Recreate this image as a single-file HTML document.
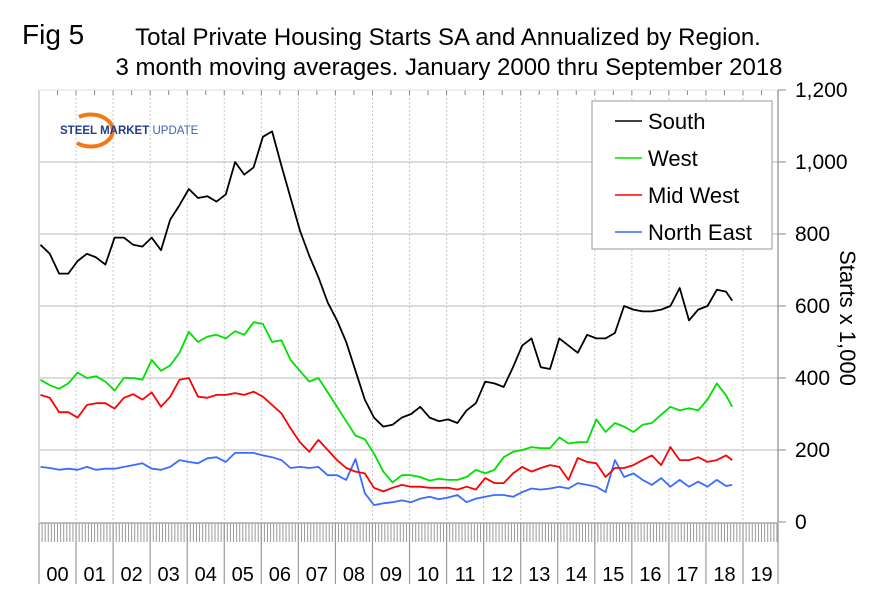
<!DOCTYPE html>
<html><head><meta charset="utf-8"><style>
body{margin:0;background:#fff;}
svg{display:block;font-family:"Liberation Sans",Arial,sans-serif;}
</style></head><body>
<svg id="chart" width="886" height="594" viewBox="0 0 886 594" xmlns="http://www.w3.org/2000/svg">
<rect width="886" height="594" fill="#fff"/>
<text x="22" y="44" font-size="28">Fig 5</text>
<text x="448" y="45" font-size="24" text-anchor="middle">Total Private Housing Starts SA and Annualized by Region.</text>
<text x="449" y="75" font-size="24" text-anchor="middle">3 month moving averages. January 2000 thru September 2018</text>
<g id="grid"></g>
<g id="axes"></g>
<g>
<path d="M79 117 A22 16 0 1 1 77 143" fill="none" stroke="#f07a1a" stroke-width="4"/>
<text x="60" y="134" font-size="11.5" font-weight="bold" fill="#1e3f8a">STEEL <tspan>MARKET</tspan> <tspan font-weight="normal" fill="#3a64b0">UPDATE</tspan></text>
</g>
<g id="series"></g>
<g>
<rect x="592" y="101" width="180" height="148" fill="#fff" stroke="#999" stroke-width="1"/>
<g><line x1="615" y1="121" x2="642" y2="121" stroke="#000" stroke-width="1.5"/><text x="648" y="129" font-size="22">South</text></g>
<g><line x1="615" y1="158" x2="642" y2="158" stroke="#00e000" stroke-width="1.5"/><text x="648" y="166" font-size="22">West</text></g>
<g><line x1="615" y1="195" x2="642" y2="195" stroke="#ff0000" stroke-width="1.5"/><text x="648" y="203" font-size="22">Mid West</text></g>
<g><line x1="615" y1="232" x2="642" y2="232" stroke="#3a6cff" stroke-width="1.5"/><text x="648" y="240" font-size="22">North East</text></g>
</g>
<text transform="translate(840,318) rotate(90)" font-size="22" text-anchor="middle">Starts x 1,000</text>
</svg>
<script>
const yearLabels=["00","01","02","03","04","05","06","07","08","09","10","11","12","13","14","15","16","17","18","19"];
const yTicks=[0,200,400,600,800,1000,1200];
const yTickLabels=["0","200","400","600","800","1,000","1,200"];
const south=[770,745,690,690,725,745,735,715,790,790,770,765,790,755,840,880,925,900,905,890,910,1000,965,985,1070,1085,990,900,810,740,680,610,560,500,420,340,290,265,270,290,300,320,290,280,285,275,310,330,390,385,375,430,490,510,430,425,510,490,470,520,510,510,525,600,590,585,585,590,600,650,560,590,600,645,640,615];
const west=[395,380,370,385,415,400,405,390,365,400,400,395,450,420,435,470,528,500,515,520,510,530,520,555,550,500,505,450,420,390,400,360,320,280,240,230,190,140,110,130,130,125,115,120,117,117,125,145,135,145,180,195,200,208,205,205,235,218,222,222,285,250,275,265,250,270,275,298,320,310,316,310,340,385,352,320];
const midWest=[353,345,305,305,290,325,330,330,315,345,355,340,360,320,348,395,400,348,345,353,353,358,353,362,348,325,302,260,222,195,228,200,172,150,140,135,95,85,95,103,98,98,95,95,95,90,98,90,122,108,108,135,153,140,150,158,153,117,178,167,163,125,150,150,158,172,185,158,208,172,172,180,167,172,185,172];
const northEast=[153,150,145,148,145,153,145,148,148,153,158,163,148,145,153,172,167,163,177,180,167,192,192,192,185,180,172,150,153,150,153,130,130,117,175,80,47,52,55,60,55,65,70,63,68,75,55,65,70,75,75,70,83,93,90,93,98,93,108,103,98,83,172,125,135,117,103,122,98,117,98,112,98,117,100,103];
const L=39,R=778,T=90,B=522,YW=(743-39)/19;
function xm(m){return L+(m+0.5)*YW/12;}
function yv(v){return B-v*(B-T)/1200;}
const NS="http://www.w3.org/2000/svg";
function mk(tag,attrs,parent){const e=document.createElementNS(NS,tag);for(const k in attrs)e.setAttribute(k,attrs[k]);parent.appendChild(e);return e;}
const grid=document.getElementById('grid'),axes=document.getElementById('axes'),ser=document.getElementById('series');
yTicks.forEach((t,i)=>{
 if(t>0&&t<1200){const g=mk('line',{x1:L,x2:R,y1:yv(t),y2:yv(t),stroke:'#d0d0d0','stroke-width':1.5},grid);
 
 }
 const tk=mk('line',{x1:R,x2:R+8,y1:yv(t),y2:yv(t),stroke:'#888'},axes);
 
 
 const tx=mk('text',{x:795,y:yv(t)+7,'font-size':21},axes);tx.textContent=yTickLabels[i];
 
 
});
for(let i=1;i<20;i++){const x=L+i*YW;const g=mk('line',{x1:x,x2:x,y1:T,y2:B,stroke:'#c8c8c8','stroke-dasharray':'2,2'},grid);
 
 }
for(let q=1;q<40;q++){const x=L+q*YW/2;mk('line',{x1:x,x2:x,y1:T,y2:T+5,stroke:'#888'},axes);}
for(let m=0;m<240;m++){const x=L+m*YW/12;mk('line',{x1:x,x2:x,y1:B+1,y2:B+20,stroke:'#999','stroke-width':1},axes);}
mk('line',{x1:L,x2:R,y1:B+1,y2:B+1,stroke:'#aaa','stroke-width':1.5},axes);
yearLabels.forEach((lab,i)=>{const x=L+i*YW;mk('line',{x1:x,x2:x,y1:B+1,y2:584,stroke:'#999','stroke-width':1.2},axes);
 const t=mk('text',{x:x+YW/2,y:581,'font-size':20,'text-anchor':'middle'},axes);t.textContent=lab;
 
 });
mk('line',{x1:R,x2:R,y1:B+1,y2:584,stroke:'#999','stroke-width':1.2},axes);
mk('line',{x1:L,x2:L,y1:T,y2:B,stroke:'#ccc','stroke-width':1.5},axes);
mk('line',{x1:R,x2:R,y1:T,y2:B,stroke:'#888','stroke-width':1.2},axes);
mk('line',{x1:L,x2:R,y1:T,y2:T,stroke:'#ddd','stroke-width':1},axes);
function draw(arr,color,name){
 const pts=arr.map((v,i)=>xm(Math.min(i*3,224)).toFixed(1)+','+yv(v).toFixed(1)).join(' ');
 const p=mk('polyline',{points:pts,fill:'none',stroke:color,'stroke-width':1.8,'stroke-linejoin':'round'},ser);
 
 
}
draw(northEast,'#3a6cff','north-east-line');
draw(midWest,'#ff0000','mid-west-line');
draw(west,'#00e000','west-line');
draw(south,'#000','south-line');
</script>
</body></html>
